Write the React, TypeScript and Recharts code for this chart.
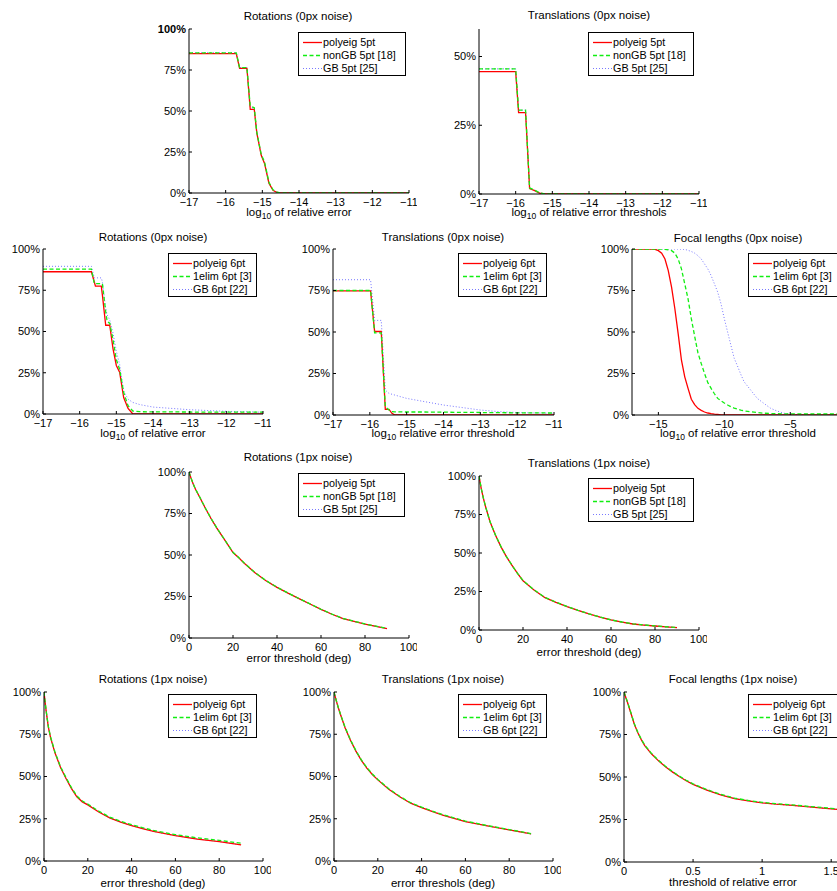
import React from "react";
import { LineChart, Line, XAxis, YAxis } from "recharts";

const FONT = '"Liberation Sans", Arial, Helvetica, sans-serif';

// ---- Rotations (0px noise), 5pt
const rot0_5_x = [-17, -15.71, -15.62, -15.42, -15.33, -15.22, -15.15, -15.03, -14.94, -14.82, -14.71, -14.6, -14.5, -11];
const rot0_5_polyeig = [0.85, 0.85, 0.76, 0.76, 0.51, 0.51, 0.365, 0.23, 0.18, 0.06, 0.016, 0.003, 0, 0];
const rot0_5_nongb = [0.855, 0.855, 0.765, 0.765, 0.53, 0.52, 0.37, 0.235, 0.19, 0.065, 0.02, 0.005, 0, 0];
const rot0_5_gb = [0.855, 0.855, 0.765, 0.765, 0.525, 0.515, 0.368, 0.233, 0.185, 0.062, 0.018, 0.004, 0, 0];

// ---- Translations (0px noise), 5pt
const tr0_5_x = [-17, -16.0, -15.92, -15.73, -15.62, -15.48, -15.35, -15.2, -11];
const tr0_5_polyeig = [0.445, 0.445, 0.296, 0.296, 0.02, 0.012, 0.003, 0, 0];
const tr0_5_nongb = [0.455, 0.455, 0.305, 0.305, 0.022, 0.014, 0.004, 0, 0];
const tr0_5_gb = [0.455, 0.455, 0.305, 0.305, 0.021, 0.013, 0.004, 0, 0];

// ---- Rotations (0px noise), 6pt
const rot0_6_x = [-17, -15.68, -15.6, -15.57, -15.41, -15.38, -15.29, -15.25, -15.18, -15.09, -15.0, -14.91, -14.8, -14.68, -14.55, -14.36, -14, -13, -12, -11];
const rot0_6_polyeig = [0.862, 0.862, 0.8, 0.775, 0.775, 0.72, 0.538, 0.538, 0.538, 0.395, 0.294, 0.254, 0.1, 0.034, 0, 0, 0, 0, 0, 0];
const rot0_6_1elim = [0.878, 0.878, 0.79, 0.79, 0.79, 0.79, 0.62, 0.56, 0.55, 0.45, 0.33, 0.27, 0.13, 0.05, 0.018, 0.014, 0.013, 0.012, 0.011, 0.011];
const rot0_6_gb = [0.895, 0.895, 0.825, 0.825, 0.825, 0.8, 0.64, 0.6, 0.57, 0.49, 0.38, 0.3, 0.14, 0.09, 0.07, 0.057, 0.042, 0.026, 0.016, 0.011];

// ---- Translations (0px noise), 6pt
const tr0_6_x = [-17, -15.98, -15.87, -15.69, -15.58, -15.48, -15.4, -15.32, -15.0, -14.5, -14, -13.5, -13, -12.5, -12, -11];
const tr0_6_polyeig = [0.748, 0.748, 0.503, 0.503, 0.034, 0.034, 0.01, 0, 0, 0, 0, 0, 0, 0, 0, 0];
const tr0_6_1elim = [0.75, 0.75, 0.495, 0.495, 0.05, 0.03, 0.02, 0.019, 0.018, 0.018, 0.017, 0.016, 0.015, 0.014, 0.013, 0.012];
const tr0_6_gb = [0.815, 0.815, 0.57, 0.57, 0.15, 0.13, 0.125, 0.12, 0.1, 0.08, 0.06, 0.045, 0.03, 0.02, 0.015, 0.01];

// ---- Focal lengths (0px noise), 6pt
const foc0_x = [-17, -16, -15.5, -15.25, -15, -14.75, -14.5, -14.25, -14, -13.75, -13.5, -13.25, -13, -12.75, -12.5, -12.25, -12, -11.75, -11.5, -11.25, -11, -10.75, -10.5, -10.25, -10, -9.75, -9.5, -9.25, -9, -8.75, -8.5, -8, -7.5, -7, -6.5, -6, -5.5, -5, -4, -3, -2, -1];
const foc0_polyeig = [1, 1, 1, 0.998, 0.99, 0.975, 0.94, 0.87, 0.77, 0.64, 0.49, 0.33, 0.23, 0.16, 0.095, 0.062, 0.04, 0.028, 0.018, 0.012, 0.008, 0.005, 0.003, 0.001, 0, 0, 0, 0, 0, 0, 0, 0, 0, 0, 0, 0, 0, 0, 0, 0, 0, 0];
const foc0_1elim = [1, 1, 1, 1, 1, 1, 0.998, 0.995, 0.99, 0.975, 0.94, 0.88, 0.79, 0.7, 0.58, 0.475, 0.375, 0.31, 0.25, 0.195, 0.16, 0.128, 0.1, 0.085, 0.072, 0.06, 0.05, 0.042, 0.036, 0.03, 0.025, 0.019, 0.015, 0.011, 0.009, 0.008, 0.007, 0.007, 0.006, 0.006, 0.006, 0.006];
const foc0_gb = [1, 1, 1, 1, 1, 1, 1, 1, 1, 1, 1, 0.999, 0.998, 0.992, 0.985, 0.975, 0.96, 0.94, 0.91, 0.88, 0.84, 0.79, 0.74, 0.67, 0.58, 0.5, 0.42, 0.342, 0.295, 0.245, 0.2, 0.15, 0.1, 0.07, 0.041, 0.024, 0.011, 0.005, 0.001, 0, 0, 0];

// ---- Rotations (1px noise), 5pt
const rot1_5_x = [0, 1, 2, 3, 5, 7.5, 10, 12.5, 15, 17.5, 20, 22.5, 25, 30, 35, 40, 45, 50, 55, 60, 65, 70, 75, 80, 85, 90];
const rot1_5_polyeig = [1, 0.96, 0.925, 0.895, 0.845, 0.78, 0.72, 0.665, 0.615, 0.565, 0.515, 0.485, 0.452, 0.393, 0.345, 0.305, 0.27, 0.237, 0.205, 0.172, 0.143, 0.117, 0.1, 0.084, 0.07, 0.057];
const rot1_5_nongb = [1, 0.961, 0.926, 0.896, 0.846, 0.781, 0.721, 0.666, 0.616, 0.566, 0.516, 0.486, 0.453, 0.394, 0.346, 0.306, 0.271, 0.238, 0.206, 0.173, 0.144, 0.118, 0.101, 0.085, 0.071, 0.058];
const rot1_5_gb = [1, 0.96, 0.925, 0.895, 0.845, 0.78, 0.72, 0.665, 0.615, 0.565, 0.515, 0.485, 0.452, 0.393, 0.345, 0.305, 0.27, 0.237, 0.205, 0.172, 0.143, 0.117, 0.1, 0.084, 0.07, 0.057];

// ---- Translations (1px noise), 5pt
const tr1_5_x = [0, 1, 2, 3, 5, 7.5, 10, 12.5, 15, 17.5, 20, 25, 30, 35, 40, 45, 50, 55, 60, 65, 70, 75, 80, 85, 90];
const tr1_5_polyeig = [1, 0.92, 0.855, 0.8, 0.703, 0.615, 0.54, 0.475, 0.42, 0.367, 0.32, 0.26, 0.21, 0.18, 0.152, 0.127, 0.104, 0.083, 0.065, 0.051, 0.039, 0.032, 0.026, 0.02, 0.015];
const tr1_5_nongb = [1, 0.921, 0.856, 0.801, 0.704, 0.616, 0.541, 0.476, 0.421, 0.368, 0.321, 0.261, 0.211, 0.181, 0.153, 0.128, 0.105, 0.084, 0.066, 0.052, 0.04, 0.033, 0.027, 0.021, 0.016];
const tr1_5_gb = [1, 0.92, 0.855, 0.8, 0.703, 0.615, 0.54, 0.475, 0.42, 0.367, 0.32, 0.26, 0.21, 0.18, 0.152, 0.127, 0.104, 0.083, 0.065, 0.051, 0.039, 0.032, 0.026, 0.02, 0.015];

// ---- Rotations (1px noise), 6pt
const rot1_6_x = [0, 0.5, 1, 2, 3, 5, 7.5, 10, 12.5, 15, 17.5, 20, 25, 30, 35, 40, 45, 50, 60, 70, 80, 90];
const rot1_6_polyeig = [1, 0.94, 0.885, 0.79, 0.73, 0.64, 0.555, 0.49, 0.43, 0.38, 0.35, 0.332, 0.29, 0.255, 0.23, 0.21, 0.192, 0.175, 0.15, 0.13, 0.115, 0.095];
const rot1_6_1elim = [1, 0.942, 0.888, 0.795, 0.735, 0.645, 0.56, 0.495, 0.435, 0.385, 0.355, 0.337, 0.295, 0.26, 0.235, 0.215, 0.197, 0.181, 0.156, 0.137, 0.122, 0.105];
const rot1_6_gb = [1, 0.94, 0.885, 0.79, 0.73, 0.64, 0.555, 0.49, 0.43, 0.38, 0.35, 0.332, 0.29, 0.255, 0.23, 0.21, 0.192, 0.175, 0.15, 0.13, 0.115, 0.095];

// ---- Translations (1px noise), 6pt
const tr1_6_x = [0, 1, 2, 3, 5, 7.5, 10, 12.5, 15, 17.5, 20, 25, 30, 35, 40, 45, 50, 60, 70, 80, 90];
const tr1_6_polyeig = [1, 0.95, 0.905, 0.865, 0.79, 0.715, 0.65, 0.595, 0.55, 0.512, 0.48, 0.425, 0.38, 0.342, 0.316, 0.292, 0.27, 0.233, 0.208, 0.184, 0.16];
const tr1_6_1elim = [1, 0.951, 0.907, 0.867, 0.793, 0.718, 0.653, 0.598, 0.553, 0.515, 0.483, 0.428, 0.383, 0.345, 0.319, 0.295, 0.273, 0.236, 0.21, 0.186, 0.162];
const tr1_6_gb = [1, 0.95, 0.905, 0.865, 0.79, 0.715, 0.65, 0.595, 0.55, 0.512, 0.48, 0.425, 0.38, 0.342, 0.316, 0.292, 0.27, 0.233, 0.208, 0.184, 0.16];

// ---- Focal lengths (1px noise), 6pt
const foc1_x = [0, 0.01, 0.025, 0.05, 0.075, 0.1, 0.125, 0.15, 0.2, 0.25, 0.3, 0.35, 0.4, 0.45, 0.5, 0.6, 0.7, 0.8, 0.9, 1.0, 1.1, 1.2, 1.3, 1.4, 1.5, 1.6];
const foc1_polyeig = [1, 0.975, 0.94, 0.875, 0.81, 0.76, 0.72, 0.685, 0.635, 0.595, 0.56, 0.53, 0.503, 0.478, 0.457, 0.423, 0.395, 0.373, 0.359, 0.348, 0.34, 0.334, 0.327, 0.32, 0.313, 0.306];
const foc1_1elim = [1, 0.976, 0.942, 0.878, 0.813, 0.763, 0.723, 0.688, 0.638, 0.598, 0.563, 0.533, 0.506, 0.481, 0.46, 0.426, 0.398, 0.376, 0.362, 0.351, 0.343, 0.337, 0.33, 0.323, 0.316, 0.309];
const foc1_gb = [1, 0.975, 0.94, 0.875, 0.81, 0.76, 0.72, 0.685, 0.635, 0.595, 0.56, 0.53, 0.503, 0.478, 0.457, 0.423, 0.395, 0.373, 0.359, 0.348, 0.34, 0.334, 0.327, 0.32, 0.313, 0.306];

const names5 = ["polyeig 5pt", "nonGB 5pt [18]", "GB 5pt [25]"];
const names6 = ["polyeig 6pt", "1elim 6pt [3]", "GB 6pt [22]"];

const logTicks = [-17, -16, -15, -14, -13, -12, -11];
const degTicks = [0, 20, 40, 60, 80, 100];
const pctTicks = [0, 0.25, 0.5, 0.75, 1];

const STYLES = [
  { stroke: "#ff0000", width: 1.3, dash: undefined as string | undefined },
  { stroke: "#11ee11", width: 1.3, dash: "4 2.5" },
  { stroke: "#7878ff", width: 1, dash: "1 2" },
];

const fmtX = (v: number) => (v < 0 ? "\u2212" + Math.abs(v) : String(v));
const fmtY = (v: number) => `${Math.round(v * 100)}%`;

const Log = ({ rest }: { rest: string }) => (
  <>
    log<span style={{ fontSize: 8.5, position: "relative", top: 3 }}>10</span> {rest}
  </>
);

type Cfg = {
  x0: number; y0: number; w: number; h: number;
  xDomain: [number, number]; xTicks: number[];
  yDomain: [number, number]; yTicks: number[];
  xs: number[]; series: number[][]; names: string[];
  title: string; tx: number; ty: number;
  label: React.ReactNode; lx: number; ly: number;
  legend: [number, number, number];
  boldTop?: boolean;
};

const panels: Cfg[] = [
  {
    x0: 189, y0: 29, w: 220, h: 164, xDomain: [-17, -11], xTicks: logTicks, yDomain: [0, 1], yTicks: pctTicks,
    xs: rot0_5_x, series: [rot0_5_polyeig, rot0_5_nongb, rot0_5_gb], names: names5,
    title: "Rotations (0px noise)", tx: 298, ty: 15.5, label: <Log rest="of relative error" />, lx: 299, ly: 213,
    legend: [298, 32, 108], boldTop: true,
  },
  {
    x0: 479, y0: 29, w: 220, h: 165, xDomain: [-17, -11], xTicks: logTicks, yDomain: [0, 0.6], yTicks: [0, 0.25, 0.5],
    xs: tr0_5_x, series: [tr0_5_polyeig, tr0_5_nongb, tr0_5_gb], names: names5,
    title: "Translations (0px noise)", tx: 589, ty: 15, label: <Log rest="of relative error threshols" />, lx: 589, ly: 213,
    legend: [588, 32, 106],
  },
  {
    x0: 43, y0: 249, w: 220, h: 165, xDomain: [-17, -11], xTicks: logTicks, yDomain: [0, 1], yTicks: pctTicks,
    xs: rot0_6_x, series: [rot0_6_polyeig, rot0_6_1elim, rot0_6_gb], names: names6,
    title: "Rotations (0px noise)", tx: 153, ty: 237, label: <Log rest="of relative error" />, lx: 153, ly: 434,
    legend: [168, 253, 89],
  },
  {
    x0: 333, y0: 249, w: 221, h: 166, xDomain: [-17, -11], xTicks: logTicks, yDomain: [0, 1], yTicks: pctTicks,
    xs: tr0_6_x, series: [tr0_6_polyeig, tr0_6_1elim, tr0_6_gb], names: names6,
    title: "Translations (0px noise)", tx: 443, ty: 237, label: <Log rest="relative error threshold" />, lx: 443, ly: 434,
    legend: [458, 253, 89],
  },
  {
    x0: 632, y0: 249, w: 211, h: 166, xDomain: [-17, -1], xTicks: [-15, -10, -5], yDomain: [0, 1], yTicks: pctTicks,
    xs: foc0_x, series: [foc0_polyeig, foc0_1elim, foc0_gb], names: names6,
    title: "Focal lengths (0px noise)", tx: 738, ty: 237.5, label: <Log rest="of relative error threshold" />, lx: 738, ly: 434,
    legend: [748, 253, 92],
  },
  {
    x0: 189, y0: 472, w: 220, h: 166, xDomain: [0, 100], xTicks: degTicks, yDomain: [0, 1], yTicks: pctTicks,
    xs: rot1_5_x, series: [rot1_5_polyeig, rot1_5_nongb, rot1_5_gb], names: names5,
    title: "Rotations (1px noise)", tx: 298, ty: 457, label: "error threshold (deg)", lx: 299, ly: 658,
    legend: [298, 473, 107],
  },
  {
    x0: 479, y0: 476, w: 220, h: 154, xDomain: [0, 100], xTicks: degTicks, yDomain: [0, 1], yTicks: pctTicks,
    xs: tr1_5_x, series: [tr1_5_polyeig, tr1_5_nongb, tr1_5_gb], names: names5,
    title: "Translations (1px noise)", tx: 589, ty: 463, label: "error threshold (deg)", lx: 589, ly: 652,
    legend: [588, 478, 106],
  },
  {
    x0: 44, y0: 692, w: 219, h: 169, xDomain: [0, 100], xTicks: degTicks, yDomain: [0, 1], yTicks: pctTicks,
    xs: rot1_6_x, series: [rot1_6_polyeig, rot1_6_1elim, rot1_6_gb], names: names6,
    title: "Rotations (1px noise)", tx: 153, ty: 679, label: "error threshold (deg)", lx: 153, ly: 883,
    legend: [168, 694, 89],
  },
  {
    x0: 334, y0: 692, w: 219, h: 169, xDomain: [0, 100], xTicks: degTicks, yDomain: [0, 1], yTicks: pctTicks,
    xs: tr1_6_x, series: [tr1_6_polyeig, tr1_6_1elim, tr1_6_gb], names: names6,
    title: "Translations (1px noise)", tx: 443, ty: 679, label: "error threshols (deg)", lx: 443, ly: 883,
    legend: [458, 694, 89],
  },
  {
    x0: 624, y0: 692, w: 221, h: 170, xDomain: [0, 1.6], xTicks: [0, 0.5, 1, 1.5], yDomain: [0, 1], yTicks: pctTicks,
    xs: foc1_x, series: [foc1_polyeig, foc1_1elim, foc1_gb], names: names6,
    title: "Focal lengths (1px noise)", tx: 733, ty: 679, label: "threshold of relative error", lx: 733, ly: 882,
    legend: [748, 694, 92],
  },
];

const L = 45, T = 8, R = 8, B = 30;

function LegendBox({ left, top, width, names }: { left: number; top: number; width: number; names: string[] }) {
  return (
    <div
      style={{
        position: "absolute", left, top, width, height: 44, boxSizing: "border-box",
        border: "1px solid #000", background: "#fff", paddingTop: 2.5, fontSize: 10.8, fontFamily: FONT,
        overflow: "hidden",
      }}
    >
      {names.map((n, i) => (
        <div key={n} style={{ display: "flex", alignItems: "center", height: 13 }}>
          <svg width={24} height={13} style={{ flex: "none" }}>
            <line x1={4} x2={23} y1={6.5} y2={6.5} stroke={STYLES[i].stroke} strokeWidth={STYLES[i].width} strokeDasharray={STYLES[i].dash} />
          </svg>
          <span style={{ whiteSpace: "nowrap" }}>{n}</span>
        </div>
      ))}
    </div>
  );
}

const centered = (x: number, y: number): React.CSSProperties => ({
  position: "absolute", left: x, top: y, transform: "translate(-50%, -50%)", whiteSpace: "nowrap",
  fontSize: 11.5, fontFamily: FONT, lineHeight: "13px",
});

function Panel({ c }: { c: Cfg }) {
  const rows = c.xs.map((x, i) => ({ x, s0: c.series[0][i], s1: c.series[1][i], s2: c.series[2][i] }));
  return (
    <>
      <div style={{ position: "absolute", left: c.x0 - L, top: c.y0 - T }}>
        <LineChart width={c.w + L + R} height={c.h + T + B} data={rows} margin={{ top: T, right: R, bottom: 0, left: 0 }}>
          <XAxis
            type="number" dataKey="x" domain={c.xDomain} ticks={c.xTicks} interval={0} allowDataOverflow
            height={B} tickSize={-3} tickMargin={8} stroke="#000"
            tick={(p: any) => (
              <text x={p.x} y={p.y} dy="0.71em" textAnchor="middle" fontSize={11} fontFamily={FONT} fill="#000">
                {fmtX(p.payload.value)}
              </text>
            )}
          />
          <YAxis
            type="number" domain={c.yDomain} ticks={c.yTicks} interval={0} allowDataOverflow
            width={L} tickSize={-3} tickMargin={6} stroke="#000"
            tick={(p: any) => (
              <text
                x={p.x} y={p.y} dy="0.355em" textAnchor="end" fontSize={11} fontFamily={FONT} fill="#000"
                fontWeight={c.boldTop && p.payload.value === 1 ? "bold" : "normal"}
              >
                {fmtY(p.payload.value)}
              </text>
            )}
          />
          {[2, 0, 1].map((i) => (
            <Line
              key={i} type="linear" dataKey={`s${i}`} stroke={STYLES[i].stroke} strokeWidth={STYLES[i].width}
              strokeDasharray={STYLES[i].dash} dot={false} activeDot={false} isAnimationActive={false}
            />
          ))}
        </LineChart>
      </div>
      <div style={centered(c.tx, c.ty)}>{c.title}</div>
      <div style={centered(c.lx, c.ly)}>{c.label}</div>
      <LegendBox left={c.legend[0]} top={c.legend[1]} width={c.legend[2]} names={c.names} />
    </>
  );
}

export default function App() {
  return (
    <div style={{ position: "absolute", left: 0, top: 0, width: 837, height: 891, overflow: "hidden", background: "#fff" }}>
      {panels.map((c, i) => (
        <Panel key={i} c={c} />
      ))}
    </div>
  );
}
